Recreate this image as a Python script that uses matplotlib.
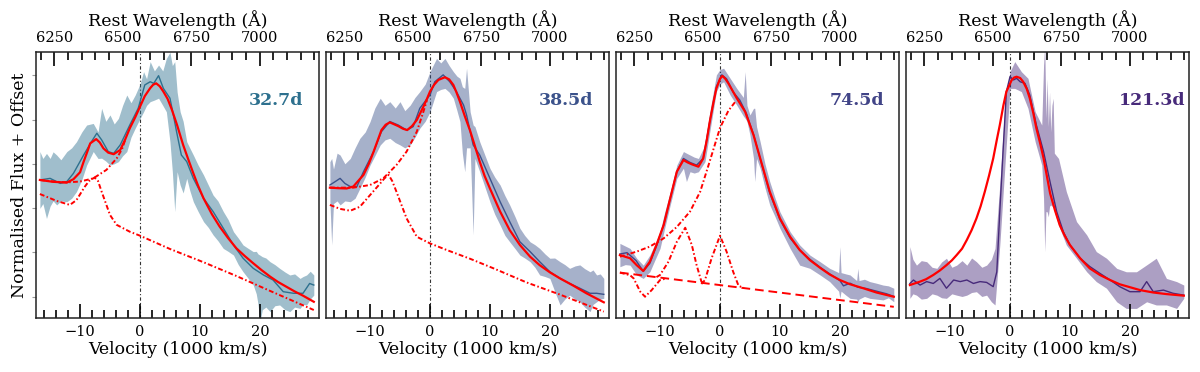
import matplotlib
matplotlib.use("Agg")
import matplotlib.pyplot as plt
from matplotlib.ticker import MultipleLocator, NullFormatter

plt.rcParams['font.family'] = ['DejaVu Serif']

# ---------------- data (velocity in 1000 km/s, flux in normalised offset units) -------------
epochs = ["32.7d", "38.5d", "74.5d", "121.3d"]
colors = ["#2d708e", "#3b528b", "#414487", "#472a7a"]

# ---- panel 1 (32.7d)
p1_fit_v = [-16.7, -14.5, -12.2, -11.1, -10.0, -9.4, -8.8, -8.3, -7.3, -6.7, -6.1, -5.3, -4.4, -3.3,
            -2.5, -1.7, -0.8, 0.0, 0.8, 1.7, 2.2, 2.7, 3.3, 3.9, 4.6, 5.3, 6.2, 7.2, 8.0, 8.9, 9.7,
            10.6, 12.0, 13.3, 14.7, 16.1, 17.5, 18.9, 20.3, 21.7, 23.0, 24.4, 25.8, 27.2, 29.0]
p1_fit_f = [0.519, 0.512, 0.509, 0.522, 0.548, 0.588, 0.625, 0.657, 0.673, 0.660, 0.638, 0.622, 0.616,
            0.632, 0.670, 0.714, 0.755, 0.795, 0.835, 0.865, 0.878, 0.883, 0.872, 0.852, 0.825, 0.785,
            0.725, 0.651, 0.600, 0.544, 0.497, 0.450, 0.390, 0.343, 0.300, 0.261, 0.232, 0.205, 0.179,
            0.155, 0.135, 0.117, 0.099, 0.083, 0.060]
p1_narrow_v = [-16.7, -13.9, -11.7, -10.6, -9.2, -8.5, -7.6, -7.0, -6.4, -5.0, -3.9, -1.7, 0.0, 5.0,
               10.6, 16.1, 21.7, 29.0]
p1_narrow_f = [0.466, 0.440, 0.425, 0.443, 0.494, 0.515, 0.528, 0.515, 0.475, 0.387, 0.350, 0.324,
               0.309, 0.259, 0.209, 0.157, 0.101, 0.029]
p1_broad_v = [-16.7, -14.0, -12.2, -10.0, -7.8, -5.6, -3.9, -3.0, -2.5]
p1_broad_f = [0.519, 0.512, 0.510, 0.513, 0.525, 0.557, 0.600, 0.635, 0.668]
p1_band_v = [-16.7, -16.2, -15.6, -15.0, -14.5, -13.9, -13.2, -12.2, -11.4, -10.6, -9.7, -8.9, -7.8,
             -7.0, -6.4, -5.7, -5.0, -4.3, -3.6, -2.9, -2.2, -1.5, -0.8, 0.0, 0.6, 1.1, 1.7, 2.4,
             3.1, 3.8, 4.4, 5.0, 5.4, 5.8, 6.2, 6.7, 7.2, 7.8, 8.3, 8.9, 9.7, 10.6, 11.4, 12.2, 13.0,
             13.9, 14.7, 15.6, 16.4, 17.2, 18.0, 18.9, 19.4, 19.7, 20.0, 20.4, 21.0, 21.7, 22.5, 23.3,
             24.2, 25.0, 25.8, 26.7, 27.2, 27.8, 28.4, 29.0]
p1_band_hi = [0.626, 0.600, 0.619, 0.600, 0.625, 0.613, 0.595, 0.626, 0.640, 0.663, 0.700, 0.726,
              0.732, 0.700, 0.789, 0.740, 0.764, 0.730, 0.751, 0.800, 0.839, 0.810, 0.839, 0.880,
              0.927, 0.900, 0.965, 0.930, 0.952, 0.930, 0.977, 1.000, 0.950, 0.965, 0.850, 0.776,
              0.740, 0.663, 0.640, 0.613, 0.575, 0.538, 0.500, 0.462, 0.440, 0.400, 0.370, 0.324,
              0.300, 0.274, 0.262, 0.249, 0.250, 0.240, 0.236, 0.230, 0.225, 0.211, 0.200, 0.186,
              0.172, 0.161, 0.165, 0.148, 0.155, 0.161, 0.175, 0.161]
p1_band_lo = [0.412, 0.430, 0.374, 0.420, 0.440, 0.425, 0.440, 0.437, 0.450, 0.475, 0.520, 0.575,
              0.626, 0.600, 0.601, 0.590, 0.575, 0.580, 0.588, 0.610, 0.626, 0.680, 0.714, 0.750,
              0.776, 0.800, 0.814, 0.820, 0.827, 0.800, 0.776, 0.663, 0.550, 0.400, 0.550, 0.500,
              0.470, 0.525, 0.480, 0.437, 0.400, 0.362, 0.340, 0.312, 0.290, 0.261, 0.250, 0.236,
              0.200, 0.173, 0.150, 0.123, 0.090, 0.050, -0.020, 0.030, 0.040, 0.023, 0.045, 0.048,
              0.030, 0.023, 0.040, 0.035, 0.050, 0.048, 0.070, 0.085]
p1_dark_v = [-16.7, -15.0, -13.3, -12.2, -11.1, -9.4, -8.1, -7.2, -6.4, -5.3, -4.4, -3.3, -1.7, -0.3,
             0.8, 1.7, 2.3, 3.1, 3.9, 5.0, 5.6, 6.1, 6.9, 7.8, 8.9, 10.6, 12.2, 13.9, 15.6, 17.2,
             18.9, 20.6, 22.2, 23.9, 25.6, 27.2, 28.3, 29.0]
p1_dark_f = [0.519, 0.525, 0.506, 0.513, 0.544, 0.613, 0.663, 0.695, 0.670, 0.626, 0.619, 0.651,
             0.726, 0.789, 0.877, 0.889, 0.883, 0.912, 0.864, 0.827, 0.760, 0.701, 0.613, 0.588,
             0.525, 0.450, 0.400, 0.337, 0.274, 0.224, 0.186, 0.161, 0.142, 0.098, 0.092, 0.092,
             0.129, 0.123]

# ---- panel 2 (38.5d)
p2_fit_v = [-16.7, -15.3, -13.9, -12.8, -11.1, -10.2, -9.4, -8.1, -7.4, -6.7, -5.3, -4.5, -3.8, -3.0,
            -2.2, -1.1, -0.5, 0.0, 0.7, 1.4, 2.5, 3.2, 3.9, 4.4, 5.0, 5.8, 6.7, 7.5, 8.3, 9.1, 10.0,
            11.7, 13.3, 15.0, 16.7, 18.3, 20.0, 21.7, 23.9, 26.1, 29.0]
p2_fit_f = [0.490, 0.488, 0.487, 0.494, 0.538, 0.580, 0.626, 0.707, 0.727, 0.736, 0.722, 0.712,
            0.707, 0.722, 0.745, 0.795, 0.825, 0.852, 0.878, 0.896, 0.906, 0.898, 0.877, 0.850,
            0.814, 0.760, 0.704, 0.646, 0.588, 0.535, 0.487, 0.400, 0.330, 0.274, 0.230, 0.198,
            0.171, 0.148, 0.121, 0.092, 0.058]
p2_narrow_v = [-16.7, -15.0, -13.3, -11.7, -10.0, -8.3, -7.6, -6.9, -6.3, -5.6, -3.9, -2.2, 0.0, 2.8,
               6.7, 10.6, 16.1, 21.7, 29.0]
p2_narrow_f = [0.425, 0.410, 0.403, 0.418, 0.462, 0.506, 0.525, 0.538, 0.515, 0.475, 0.374, 0.305,
               0.280, 0.255, 0.222, 0.186, 0.133, 0.087, 0.023]
p2_broad_v = [-16.7, -12.8, -10.0, -7.8, -5.6, -3.9, -2.2, -1.1, -0.5]
p2_broad_f = [0.490, 0.490, 0.500, 0.525, 0.575, 0.626, 0.701, 0.776, 0.820]
p2_band_v = [-16.7, -16.4, -16.1, -15.5, -15.0, -14.2, -13.3, -12.5, -11.7, -10.8, -10.0, -9.2, -8.3,
             -7.5, -6.7, -5.8, -5.0, -4.2, -3.3, -2.5, -1.7, -0.8, 0.0, 0.5, 1.1, 1.8, 2.5, 3.2,
             3.9, 4.5, 5.0, 5.4, 5.8, 6.1, 6.7, 7.2, 7.5, 8.3, 9.2, 10.0, 10.8, 11.7, 12.5, 13.3,
             14.2, 15.0, 15.8, 16.7, 17.5, 18.3, 19.2, 20.0, 20.8, 21.7, 22.5, 23.3, 24.2, 25.0,
             25.8, 26.7, 27.2, 27.8, 28.4, 29.0]
p2_band_hi = [0.588, 0.600, 0.560, 0.620, 0.613, 0.580, 0.600, 0.640, 0.676, 0.700, 0.739, 0.790,
              0.827, 0.800, 0.814, 0.790, 0.814, 0.780, 0.801, 0.830, 0.852, 0.880, 0.927, 0.950,
              0.977, 0.960, 0.977, 0.950, 0.927, 0.910, 0.902, 0.870, 0.864, 0.940, 0.776, 0.726,
              0.720, 0.663, 0.610, 0.563, 0.530, 0.500, 0.460, 0.425, 0.380, 0.337, 0.310, 0.286,
              0.275, 0.261, 0.240, 0.224, 0.225, 0.211, 0.200, 0.186, 0.195, 0.199, 0.185, 0.173,
              0.180, 0.161, 0.165, 0.148]
p2_band_lo = [0.437, 0.274, 0.430, 0.440, 0.425, 0.440, 0.437, 0.450, 0.487, 0.530, 0.575, 0.610,
              0.651, 0.670, 0.676, 0.660, 0.651, 0.640, 0.651, 0.680, 0.714, 0.740, 0.776, 0.810,
              0.852, 0.860, 0.864, 0.850, 0.827, 0.780, 0.739, 0.620, 0.550, 0.640, 0.640, 0.312,
              0.600, 0.550, 0.490, 0.437, 0.390, 0.349, 0.310, 0.286, 0.260, 0.236, 0.225, 0.211,
              0.190, 0.161, 0.155, 0.148, 0.100, 0.048, 0.070, 0.085, 0.070, 0.060, 0.040, 0.023,
              0.050, 0.060, 0.070, 0.073]
p2_dark_v = [-16.7, -15.8, -15.0, -14.2, -13.3, -12.2, -11.1, -9.4, -8.1, -6.7, -5.3, -3.9, -2.8,
             -1.7, 0.0, 0.8, 2.2, 3.3, 4.4, 5.6, 6.1, 7.2, 8.3, 10.0, 11.7, 13.3, 15.0, 16.7, 18.3,
             20.0, 21.7, 23.3, 25.0, 26.7, 27.8, 29.0]
p2_dark_f = [0.500, 0.513, 0.525, 0.506, 0.494, 0.494, 0.550, 0.626, 0.701, 0.739, 0.726, 0.707,
             0.720, 0.789, 0.839, 0.889, 0.915, 0.889, 0.852, 0.801, 0.764, 0.651, 0.613, 0.525,
             0.437, 0.362, 0.286, 0.249, 0.211, 0.173, 0.148, 0.129, 0.111, 0.092, 0.092, 0.088]

# ---- panel 3 (74.5d)
p3_fit_v = [-16.7, -15.0, -13.9, -12.8, -11.7, -10.6, -9.4, -8.3, -7.2, -6.1, -5.4, -4.7, -3.6, -2.8,
            -2.2, -1.7, -1.1, -0.6, 0.0, 0.4, 0.9, 1.4, 2.8, 4.2, 5.6, 6.7, 8.3, 10.0, 11.7, 13.3,
            15.0, 16.7, 18.3, 20.0, 21.7, 23.9, 26.1, 29.0]
p3_fit_f = [0.236, 0.224, 0.198, 0.176, 0.211, 0.274, 0.349, 0.450, 0.550, 0.594, 0.585, 0.578,
            0.569, 0.600, 0.670, 0.739, 0.810, 0.864, 0.900, 0.911, 0.900, 0.883, 0.827, 0.776,
            0.688, 0.601, 0.475, 0.374, 0.305, 0.255, 0.217, 0.188, 0.163, 0.142, 0.126, 0.111,
            0.095, 0.079]
p3_cont_v = [-16.7, 29.0]
p3_cont_f = [0.170, 0.041]
p3_broad_v = [-16.7, -13.9, -11.7, -9.4, -7.2, -5.0, -3.3, -1.7, 0.0, 1.4, 2.5]
p3_broad_f = [0.230, 0.249, 0.268, 0.299, 0.342, 0.400, 0.475, 0.590, 0.715, 0.780, 0.812]
p3_abs_v = [-16.7, -15.0, -14.4, -13.3, -12.5, -11.4, -10.0, -8.9]
p3_abs_f = [0.170, 0.160, 0.148, 0.098, 0.079, 0.104, 0.142, 0.148]
p3_g1_v = [-10.6, -10.0, -8.6, -7.2, -5.8, -4.7, -3.9, -3.1, -2.5]
p3_g1_f = [0.153, 0.161, 0.211, 0.286, 0.339, 0.274, 0.198, 0.136, 0.130]
p3_g2_v = [-3.1, -2.5, -1.4, 0.0, 1.1, 2.2, 3.1, 4.0]
p3_g2_f = [0.127, 0.142, 0.224, 0.309, 0.249, 0.173, 0.120, 0.112]
p3_band_v = [-16.7, -15.8, -15.0, -13.9, -12.8, -11.7, -10.8, -10.0, -9.2, -8.3, -7.2, -6.1, -5.6,
             -5.0, -4.3, -3.6, -2.5, -1.7, -0.6, 0.0, 0.6, 1.7, 2.8, 3.9, 4.2, 4.5, 5.0, 5.6, 5.8,
             6.1, 6.7, 7.5, 8.3, 9.2, 10.0, 11.7, 13.3, 15.0, 16.7, 18.3, 19.8, 20.0, 20.2, 21.0,
             21.7, 22.8, 23.0, 23.2, 24.1, 25.0, 26.1, 27.2, 28.1, 29.0]
p3_band_hi = [0.280, 0.270, 0.261, 0.224, 0.198, 0.236, 0.280, 0.324, 0.400, 0.475, 0.575, 0.626,
              0.620, 0.613, 0.605, 0.600, 0.651, 0.776, 0.915, 0.935, 0.940, 0.902, 0.864, 0.830,
              0.927, 0.800, 0.764, 0.789, 0.789, 0.720, 0.663, 0.580, 0.513, 0.450, 0.399, 0.324,
              0.274, 0.236, 0.211, 0.186, 0.170, 0.268, 0.170, 0.165, 0.161, 0.140, 0.186, 0.140,
              0.145, 0.136, 0.130, 0.123, 0.120, 0.111]
p3_band_lo = [0.192, 0.200, 0.198, 0.161, 0.148, 0.173, 0.220, 0.261, 0.340, 0.425, 0.525, 0.563,
              0.513, 0.550, 0.545, 0.550, 0.588, 0.701, 0.852, 0.880, 0.889, 0.839, 0.801, 0.760,
              0.751, 0.740, 0.688, 0.600, 0.513, 0.600, 0.563, 0.490, 0.425, 0.380, 0.337, 0.261,
              0.198, 0.186, 0.161, 0.136, 0.100, 0.073, 0.100, 0.085, 0.073, 0.070, 0.060, 0.070,
              0.080, 0.073, 0.070, 0.067, 0.075, 0.060]
p3_dark_v = [-16.7, -15.5, -14.0, -12.8, -11.7, -10.6, -9.4, -8.3, -7.2, -6.1, -5.0, -3.9, -2.8,
             -1.7, -0.6, 0.3, 1.1, 2.2, 3.3, 4.4, 5.6, 6.7, 8.3, 10.0, 11.7, 13.3, 15.0, 16.7,
             18.3, 20.0, 20.6, 21.7, 23.0, 24.4, 26.1, 27.8, 29.0]
p3_dark_f = [0.240, 0.245, 0.215, 0.175, 0.205, 0.270, 0.350, 0.450, 0.550, 0.600, 0.585, 0.575,
             0.600, 0.740, 0.870, 0.915, 0.900, 0.850, 0.820, 0.770, 0.690, 0.600, 0.470, 0.370,
             0.300, 0.255, 0.220, 0.190, 0.165, 0.140, 0.120, 0.130, 0.115, 0.110, 0.100, 0.090,
             0.080]

# ---- panel 4 (121.3d)
p4_fit_v = [-16.7, -15.0, -14.0, -12.8, -11.7, -10.6, -9.7, -8.9, -8.0, -7.2, -6.4, -5.6, -4.9, -4.2,
            -3.5, -2.8, -2.2, -1.7, -1.1, -0.6, 0.3, 0.7, 1.1, 1.7, 2.2, 2.8, 3.3, 3.9, 4.4, 5.0,
            5.6, 6.1, 6.7, 7.5, 8.3, 9.1, 10.0, 11.7, 13.3, 15.0, 16.7, 18.3, 20.0, 21.7, 23.9,
            26.1, 29.0]
p4_fit_f = [0.123, 0.136, 0.145, 0.161, 0.178, 0.198, 0.216, 0.236, 0.260, 0.293, 0.330, 0.374,
            0.420, 0.475, 0.535, 0.600, 0.670, 0.726, 0.800, 0.852, 0.896, 0.905, 0.908, 0.903,
            0.889, 0.862, 0.827, 0.770, 0.714, 0.660, 0.601, 0.540, 0.468, 0.405, 0.349, 0.310,
            0.274, 0.224, 0.186, 0.161, 0.142, 0.126, 0.115, 0.104, 0.095, 0.089, 0.083]
p4_band_v = [-16.7, -16.2, -15.6, -14.8, -13.9, -13.0, -12.2, -11.4, -10.6, -9.7, -8.9, -8.0, -7.2,
             -6.4, -5.6, -4.7, -3.9, -3.1, -2.5, -1.7, -0.8, 0.0, 0.8, 1.9, 3.0, 4.2, 5.3, 5.6,
             5.8, 6.0, 6.2, 6.4, 6.6, 6.8, 7.0, 7.2, 7.4, 8.1, 9.4, 11.1, 12.8, 14.4, 16.1, 17.8,
             19.4, 21.1, 22.8, 24.4, 26.1, 27.8, 29.0]
p4_band_hi = [0.268, 0.220, 0.198, 0.215, 0.211, 0.190, 0.186, 0.210, 0.224, 0.190, 0.198, 0.215,
              0.198, 0.225, 0.211, 0.190, 0.198, 0.220, 0.261, 0.500, 0.827, 0.927, 0.965, 0.927,
              0.902, 0.776, 0.726, 0.950, 1.030, 0.750, 0.900, 0.720, 0.850, 0.700, 0.800, 0.827,
              0.620, 0.600, 0.475, 0.362, 0.312, 0.249, 0.224, 0.186, 0.173, 0.173, 0.199, 0.224,
              0.148, 0.136, 0.123]
p4_band_lo = [0.073, 0.090, 0.085, 0.070, 0.073, 0.090, 0.085, 0.075, 0.073, 0.090, 0.085, 0.080,
              0.085, 0.095, 0.098, 0.080, 0.085, 0.060, 0.048, 0.274, 0.588, 0.864, 0.864, 0.852,
              0.789, 0.663, 0.575, 0.450, 0.249, 0.400, 0.399, 0.380, 0.420, 0.425, 0.420, 0.425,
              0.400, 0.349, 0.274, 0.224, 0.173, 0.136, 0.111, 0.060, 0.035, 0.035, 0.060, 0.048,
              0.048, 0.035, 0.073]
p4_dark_v = [-16.7, -16.1, -15.0, -13.9, -12.8, -11.7, -10.6, -9.4, -8.3, -7.2, -6.1, -5.0, -3.9,
             -2.8, -2.2, -1.7, -1.1, -0.6, 0.0, 0.6, 1.1, 1.7, 2.5, 3.3, 4.4, 5.6, 6.7, 7.8, 8.9,
             10.0, 11.7, 13.3, 15.0, 16.7, 18.3, 20.0, 21.7, 22.8, 23.9, 25.6, 27.2, 29.0]
p4_dark_f = [0.129, 0.142, 0.123, 0.136, 0.129, 0.148, 0.111, 0.142, 0.136, 0.142, 0.129, 0.136,
             0.133, 0.117, 0.173, 0.400, 0.651, 0.852, 0.908, 0.896, 0.902, 0.889, 0.883, 0.839,
             0.726, 0.626, 0.510, 0.399, 0.324, 0.274, 0.224, 0.193, 0.167, 0.142, 0.117, 0.098,
             0.098, 0.136, 0.098, 0.104, 0.092, 0.085]

# ---------------- figure ----------------
fig = plt.figure(figsize=(12, 3.72), dpi=100)

C_KMS = 299.792
HA = 6563.0


def v2l(v):
    return HA * (1 + v / C_KMS)


def l2v(l):
    return (l / HA - 1) * C_KMS


dashdot = (0, (2.5, 1.2, 0.8, 1.2))
longdash = (0, (4.5, 2.5))

panels = [
    dict(fit=(p1_fit_v, p1_fit_f), band=(p1_band_v, p1_band_hi, p1_band_lo), dark=(p1_dark_v, p1_dark_f),
         comps=[(p1_narrow_v, p1_narrow_f, dashdot), (p1_broad_v, p1_broad_f, dashdot)]),
    dict(fit=(p2_fit_v, p2_fit_f), band=(p2_band_v, p2_band_hi, p2_band_lo), dark=(p2_dark_v, p2_dark_f),
         comps=[(p2_narrow_v, p2_narrow_f, dashdot), (p2_broad_v, p2_broad_f, dashdot)]),
    dict(fit=(p3_fit_v, p3_fit_f), band=(p3_band_v, p3_band_hi, p3_band_lo), dark=(p3_dark_v, p3_dark_f),
         comps=[(p3_cont_v, p3_cont_f, longdash), (p3_broad_v, p3_broad_f, dashdot),
                (p3_abs_v, p3_abs_f, dashdot), (p3_g1_v, p3_g1_f, dashdot), (p3_g2_v, p3_g2_f, dashdot)]),
    dict(fit=(p4_fit_v, p4_fit_f), band=(p4_band_v, p4_band_hi, p4_band_lo), dark=(p4_dark_v, p4_dark_f),
         comps=[]),
]

for i, pdata in enumerate(panels):
    left = (35.7 + 290 * i) / 1200
    ax = fig.add_axes([left, 54.3 / 372, 283.5 / 1200, 265.4 / 372])
    col = colors[i]
    bv, bhi, blo = pdata['band']
    ax.fill_between(bv, blo, bhi, color=col, alpha=0.45, lw=0, zorder=1)
    ax.plot(*pdata['dark'], color=col, lw=1.0, zorder=2)
    for cv, cf, ls in pdata['comps']:
        ax.plot(cv, cf, color='red', lw=1.4, linestyle=ls, zorder=3)
    ax.plot(*pdata['fit'], color='red', lw=1.6, zorder=4)
    ax.axvline(0, color='#333333', lw=0.8, linestyle=(0, (3, 2, 1, 2)), zorder=0)

    ax.set_xlim(-17.4, 29.9)
    ax.set_ylim(0, 1)
    ax.xaxis.set_major_locator(MultipleLocator(10))
    ax.xaxis.set_minor_locator(MultipleLocator(2))
    ax.tick_params(axis='x', which='major', direction='in', length=10, width=1.2, labelsize=10.5, pad=5)
    ax.tick_params(axis='x', which='minor', direction='in', length=5.5, width=1.2)
    ax.set_xlabel('Velocity (1000 km/s)', fontsize=12.5, labelpad=2)

    if i == 0:
        ax.set_yticks([0.077, 0.246, 0.412, 0.578, 0.745, 0.914])
        ax.yaxis.set_major_formatter(NullFormatter())
        ax.tick_params(axis='y', which='major', direction='out', length=3, width=0.8, color='#999999')
        ax.set_ylabel('Normalised Flux + Offset', fontsize=12.5)
        ax.yaxis.set_label_coords(-0.028, 0.5)
    else:
        ax.set_yticks([])

    for sp in ax.spines.values():
        sp.set_linewidth(1.1)
        sp.set_color('#222222')

    sec = ax.secondary_xaxis('top', functions=(v2l, l2v))
    sec.set_xticks([6250, 6500, 6750, 7000])
    sec.xaxis.set_minor_locator(MultipleLocator(50))
    sec.tick_params(axis='x', which='major', direction='in', length=10, width=1.2, labelsize=10.5, pad=5)
    sec.tick_params(axis='x', which='minor', direction='in', length=5.5, width=1.2)
    sec.set_xlabel('Rest Wavelength (Å)', fontsize=12.5, labelpad=4)
    sec.spines['top'].set_visible(False)

    ax.text(0.753, 0.82, epochs[i], transform=ax.transAxes, ha='left', va='center',
            fontsize=12.5, fontweight='bold', color=col)

fig.savefig('out.png', dpi=100)
